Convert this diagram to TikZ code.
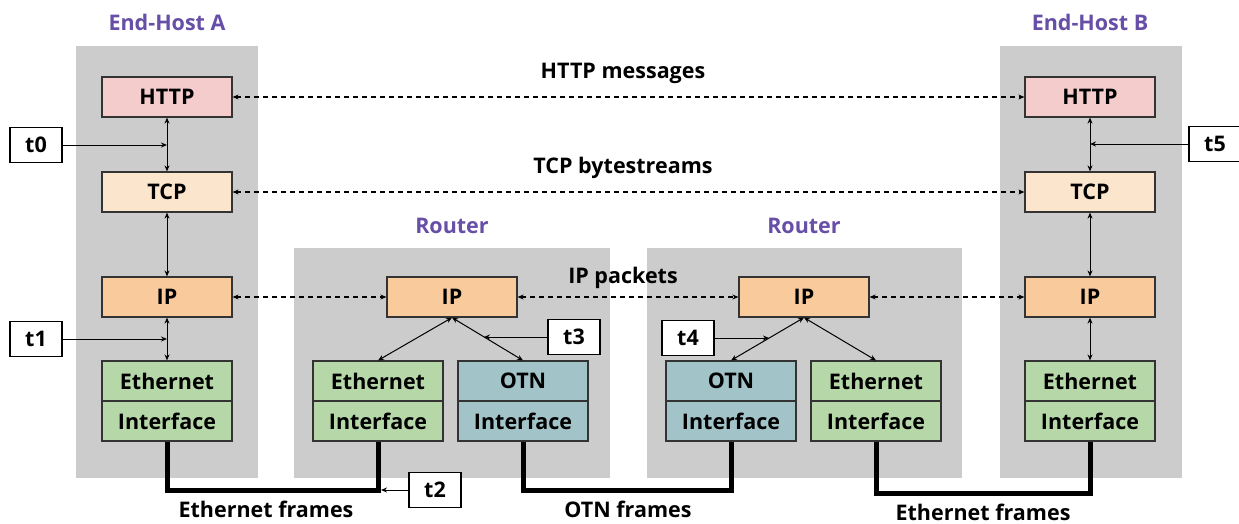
\documentclass[tikz,border=0pt]{standalone}
\usepackage{fontspec}
\setmainfont{Open Sans}
\usetikzlibrary{arrows.meta,calc}
\definecolor{httpc}{HTML}{F4CCCC}
\definecolor{tcpc}{HTML}{FCE5CD}
\definecolor{ipc}{HTML}{F9CB9C}
\definecolor{ethc}{HTML}{B6D7A8}
\definecolor{otnc}{HTML}{A2C4C9}
\definecolor{panelc}{HTML}{CCCCCC}
\definecolor{titlec}{HTML}{674EA7}
\begin{document}
\begin{tikzpicture}[>={Stealth[length=6pt,width=5pt]},x=1pt,y=-1pt,
	txt/.style={font=\bfseries\fontsize{21.5}{21.5}\selectfont},
	layer/.style={txt,draw=black!80,line width=1.2pt,minimum width=130pt,minimum height=40pt,inner sep=0pt},
	tbox/.style={txt,draw=black,fill=white,line width=1.2pt,minimum width=52pt,minimum height=35pt,inner sep=0pt},
	title/.style={txt,text=titlec},
	peer/.style={<->,dashed,dash pattern=on 5pt off 4pt,line width=1.1pt},
	link/.style={<->,line width=1pt},
	frame/.style={line width=5pt,line join=miter}]
	\useasboundingbox (0,0) rectangle (1239,523);
	% grey boxes
	\fill[panelc] (76,46) rectangle (258,478);
	\fill[panelc] (294,248) rectangle (610,478);
	\fill[panelc] (647,248) rectangle (962,478);
	\fill[panelc] (1000,46) rectangle (1182,478);
	\node[title] (hostA) at (167,22) {End-Host A};
	\node[title] (hostB) at (1090,22) {End-Host B};
	\node[title] (routerL) at (452,226) {Router};
	\node[title] (routerR) at (804,226) {Router};
	% end-host A
	\node[layer,fill=httpc] (httpA) at (167,97) {HTTP};
	\node[layer,fill=tcpc] (tcpA) at (167,192) {TCP};
	\node[layer,fill=ipc] (ipA) at (167,297) {IP};
	\node[layer,fill=ethc] (ethA) at (167,381) {Ethernet};
	\node[layer,fill=ethc] (intfA) at (167,421) {Interface};
	% router 1
	\node[layer,fill=ipc] (ipR1) at (452,297) {IP};
	\node[layer,fill=ethc] (ethR1) at (378,381) {Ethernet};
	\node[layer,fill=ethc] (intfR1a) at (378,421) {Interface};
	\node[layer,fill=otnc] (otnR1) at (523,381) {OTN};
	\node[layer,fill=otnc] (intfR1b) at (523,421) {Interface};
	% router 2
	\node[layer,fill=ipc] (ipR2) at (804,297) {IP};
	\node[layer,fill=otnc] (otnR2) at (731,381) {OTN};
	\node[layer,fill=otnc] (intfR2a) at (731,421) {Interface};
	\node[layer,fill=ethc] (ethR2) at (876,381) {Ethernet};
	\node[layer,fill=ethc] (intfR2b) at (876,421) {Interface};
	% end-host B
	\node[layer,fill=httpc] (httpB) at (1090,97) {HTTP};
	\node[layer,fill=tcpc] (tcpB) at (1090,192) {TCP};
	\node[layer,fill=ipc] (ipB) at (1090,297) {IP};
	\node[layer,fill=ethc] (ethB) at (1090,381) {Ethernet};
	\node[layer,fill=ethc] (intfB) at (1090,421) {Interface};
	% peer traffic
	\node[txt] (httpMsg) at (623,73) {HTTP messages};
	\node[txt] (tcpMsg) at (623,168) {TCP bytestreams};
	\node[txt] (ipMsg) at (623,278) {IP packets};
	\draw[peer] (httpA) -- (httpB);
	\draw[peer] (tcpA) -- (tcpB);
	\draw[peer] (ipA) -- (ipR1);
	\draw[peer] (ipR1) -- (ipR2);
	\draw[peer] (ipR2) -- (ipB);
	% stack links
	\draw[link] (httpA) -- (tcpA);
	\draw[link] (tcpA) -- (ipA);
	\draw[link] (ipA) -- (ethA);
	\draw[link] (httpB) -- (tcpB);
	\draw[link] (tcpB) -- (ipB);
	\draw[link] (ipB) -- (ethB);
	\draw[link] (ipR1.south) -- (ethR1.north);
	\draw[link] (ipR1.south) -- (otnR1.north);
	\draw[link] (ipR2.south) -- (otnR2.north);
	\draw[link] (ipR2.south) -- (ethR2.north);
	% wires
	\draw[frame] (intfA.south) -- ++(0,49) coordinate (wireA) -| (intfR1a.south);
	\draw[frame] (intfR1b.south) -- ++(0,49) -| (intfR2a.south);
	\draw[frame] (intfR2b.south) -- ++(0,52) -| (intfB.south);
	\node[txt] (ethFrL) at (266,509) {Ethernet frames};
	\node[txt] (otnFr) at (628,509) {OTN frames};
	\node[txt] (ethFrR) at (983,512) {Ethernet frames};
	% timestamps
	\node[tbox] (t0) at (36,145) {t0};
	\node[tbox] (t1) at (36,339) {t1};
	\node[tbox] (t2) at (435,490) {t2};
	\node[tbox] (t3) at (574,337) {t3};
	\node[tbox] (t4) at (688,338) {t4};
	\node[tbox] (t5) at (1215,144) {t5};
	\coordinate (c3) at ($(ipR1.south)!0.45!(otnR1.north)$);
	\coordinate (c4) at ($(ipR2.south)!0.48!(otnR2.north)$);
	\draw[->,line width=1pt] (t0) -- (t0 -| httpA);
	\draw[->,line width=1pt] (t1) -- (t1 -| ipA);
	\draw[->,line width=1pt] (t2) -- ($(t2 -| intfR1a)+(3,0)$);
	\draw[->,line width=1pt] (t3) -- (t3.west -| c3);
	\draw[->,line width=1pt] (t4) -- (t4.east -| c4);
	\draw[->,line width=1pt] (t5) -- (t5 -| httpB);
\end{tikzpicture}
\end{document}
